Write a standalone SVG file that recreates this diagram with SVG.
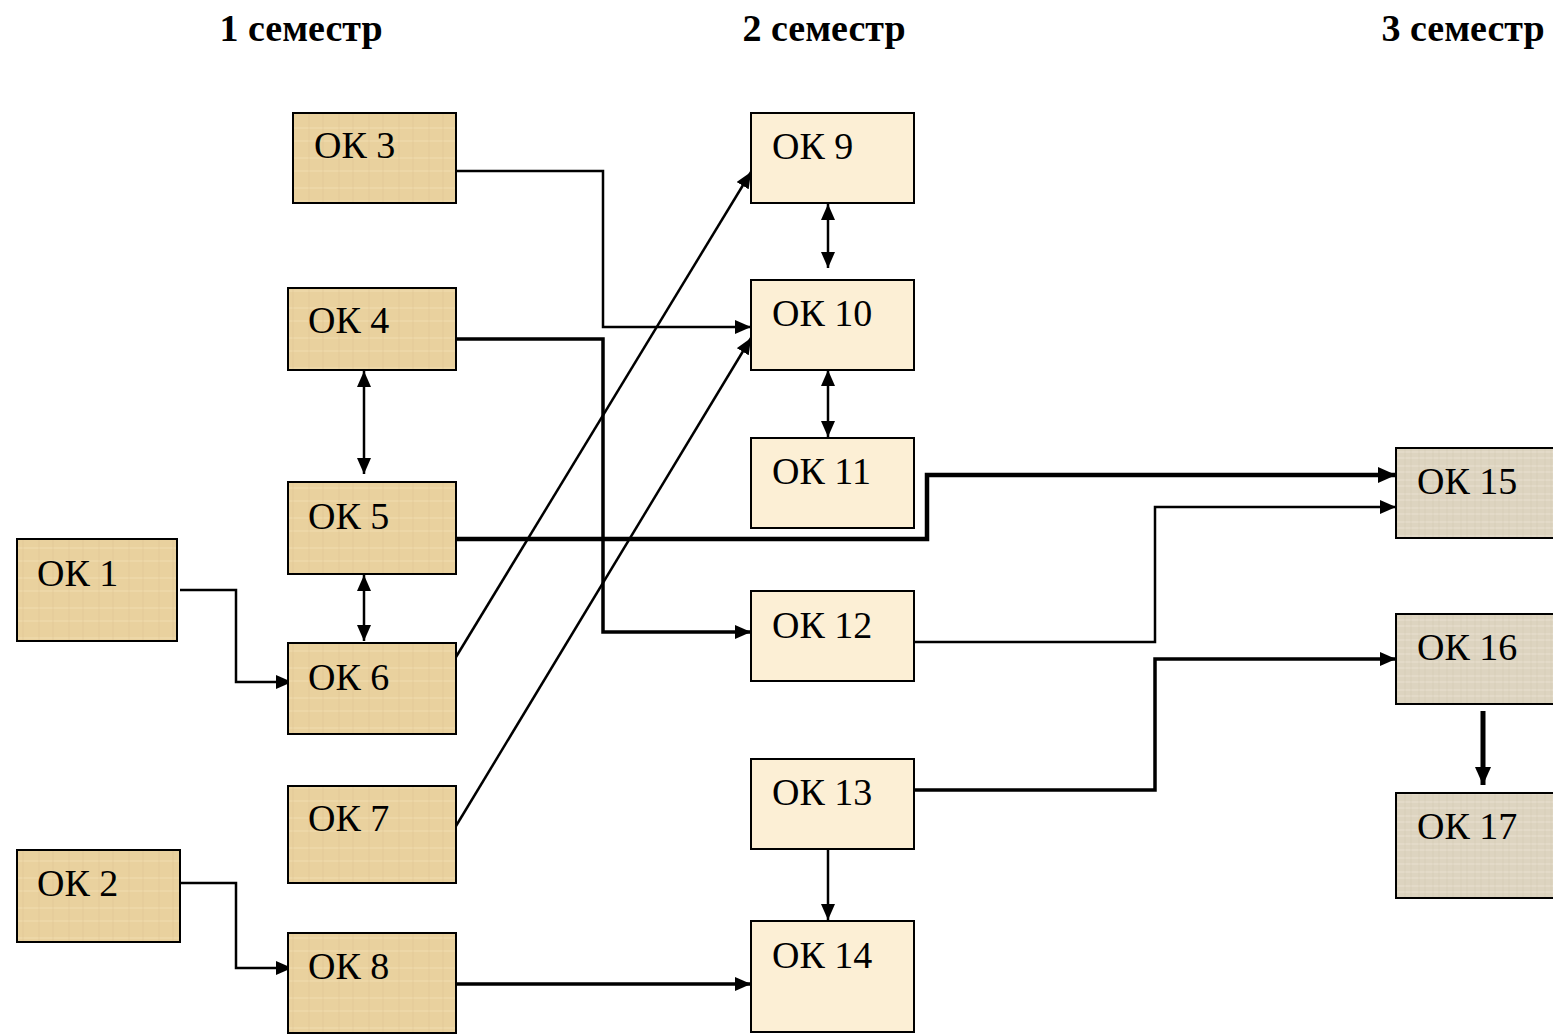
<svg xmlns="http://www.w3.org/2000/svg" width="1553" height="1034" viewBox="0 0 1553 1034">
<defs>
<pattern id="papyrus" width="30" height="30" patternUnits="userSpaceOnUse">
<rect width="30" height="30" fill="#E9D19E"/>
<path d="M0 8H30M0 21H30" stroke="#F1DEB0" stroke-width="2" opacity="0.45"/>
<path d="M9 0V30M23 0V30" stroke="#DCC28E" stroke-width="1.5" opacity="0.3"/>
</pattern>
<pattern id="linen" width="14" height="14" patternUnits="userSpaceOnUse">
<rect width="14" height="14" fill="#DDD4C0"/>
<path d="M0 4H14M0 10H14" stroke="#ECE5D5" stroke-width="1.5" opacity="0.5"/>
<path d="M5 0V14M11 0V14" stroke="#CBC0A8" stroke-width="1" opacity="0.35"/>
</pattern>
<marker id="arr" viewBox="0 0 16 14" markerWidth="16" markerHeight="14" refX="16" refY="7" orient="auto-start-reverse" markerUnits="userSpaceOnUse">
<path d="M0 0L16 7L0 14Z" fill="#000"/>
</marker>
<marker id="arrB" viewBox="0 0 18 16" markerWidth="18" markerHeight="16" refX="18" refY="8" orient="auto" markerUnits="userSpaceOnUse">
<path d="M0 0L18 8L0 16Z" fill="#000"/>
</marker>
</defs>
<style>
.box{stroke:#000;stroke-width:2}
.s1{fill:url(#papyrus)}
.s2{fill:#FCEFD5}
.s3{fill:url(#linen)}
.lbl{font-family:"Liberation Serif","Times New Roman","DejaVu Serif",serif;font-size:38px;fill:#000}
.hdr{font-family:"Liberation Serif","Times New Roman","DejaVu Serif",serif;font-size:38px;font-weight:bold;fill:#000;text-anchor:middle}
.c{fill:none;stroke:#000;stroke-width:2.5}
.t{fill:none;stroke:#000;stroke-width:3.5}
.tt{fill:none;stroke:#000;stroke-width:4.5}
</style>
<rect width="1553" height="1034" fill="#fff"/>
<g id="headers">
<text class="hdr" x="301" y="41">1 семестр</text>
<text class="hdr" x="824" y="41">2 семестр</text>
<text class="hdr" x="1463" y="41">3 семестр</text>
</g>
<g id="connectors">
<path class="c" d="M456 171H603V327H751" marker-end="url(#arr)"/>
<path class="t" d="M456 339H603V632H751" marker-end="url(#arr)"/>
<path class="tt" d="M456 539H927V475H1396" marker-end="url(#arrB)"/>
<path class="c" d="M914 642H1155V507H1396" marker-end="url(#arr)"/>
<path class="t" d="M914 790H1155V659H1396" marker-end="url(#arr)"/>
<path style="fill:none;stroke:#000;stroke-width:5" d="M1483 711V785" marker-end="url(#arrB)"/>
<path class="c" d="M456 657L751 172" marker-end="url(#arr)"/>
<path class="c" d="M456 826L751 338" marker-end="url(#arr)"/>
<path class="c" d="M180 590H236V682H292" marker-end="url(#arr)"/>
<path class="c" d="M180 883H236V968H292" marker-end="url(#arr)"/>
<path class="t" d="M456 984H751" marker-end="url(#arr)"/>
<path class="c" d="M364 371V474" marker-start="url(#arr)" marker-end="url(#arr)"/>
<path class="c" d="M364 575V641" marker-start="url(#arr)" marker-end="url(#arr)"/>
<path class="c" d="M828 204V268" marker-start="url(#arr)" marker-end="url(#arr)"/>
<path class="c" d="M828 370V437" marker-start="url(#arr)" marker-end="url(#arr)"/>
<path class="c" d="M828 849V920" marker-end="url(#arr)"/>
</g>
<g id="ok1"><rect class="box s1" x="17" y="539" width="160" height="102"/><text class="lbl" x="37" y="586">ОК 1</text></g>
<g id="ok2"><rect class="box s1" x="17" y="850" width="163" height="92"/><text class="lbl" x="37" y="896">ОК 2</text></g>
<g id="ok3"><rect class="box s1" x="293" y="113" width="163" height="90"/><text class="lbl" x="314" y="158">ОК 3</text></g>
<g id="ok4"><rect class="box s1" x="288" y="288" width="168" height="82"/><text class="lbl" x="308" y="333">ОК 4</text></g>
<g id="ok5"><rect class="box s1" x="288" y="482" width="168" height="92"/><text class="lbl" x="308" y="529">ОК 5</text></g>
<g id="ok6"><rect class="box s1" x="288" y="643" width="168" height="91"/><text class="lbl" x="308" y="690">ОК 6</text></g>
<g id="ok7"><rect class="box s1" x="288" y="786" width="168" height="97"/><text class="lbl" x="308" y="831">ОК 7</text></g>
<g id="ok8"><rect class="box s1" x="288" y="933" width="168" height="100"/><text class="lbl" x="308" y="979">ОК 8</text></g>
<g id="ok9"><rect class="box s2" x="751" y="113" width="163" height="90"/><text class="lbl" x="772" y="159">ОК 9</text></g>
<g id="ok10"><rect class="box s2" x="751" y="280" width="163" height="90"/><text class="lbl" x="772" y="326">ОК 10</text></g>
<g id="ok11"><rect class="box s2" x="751" y="438" width="163" height="90"/><text class="lbl" x="772" y="484">ОК 11</text></g>
<g id="ok12"><rect class="box s2" x="751" y="591" width="163" height="90"/><text class="lbl" x="772" y="638">ОК 12</text></g>
<g id="ok13"><rect class="box s2" x="751" y="759" width="163" height="90"/><text class="lbl" x="772" y="805">ОК 13</text></g>
<g id="ok14"><rect class="box s2" x="751" y="921" width="163" height="111"/><text class="lbl" x="772" y="968">ОК 14</text></g>
<g id="ok15"><rect class="box s3" x="1396" y="448" width="170" height="90"/><text class="lbl" x="1417" y="494">ОК 15</text></g>
<g id="ok16"><rect class="box s3" x="1396" y="614" width="170" height="90"/><text class="lbl" x="1417" y="660">ОК 16</text></g>
<g id="ok17"><rect class="box s3" x="1396" y="793" width="170" height="105"/><text class="lbl" x="1417" y="839">ОК 17</text></g>
</svg>
